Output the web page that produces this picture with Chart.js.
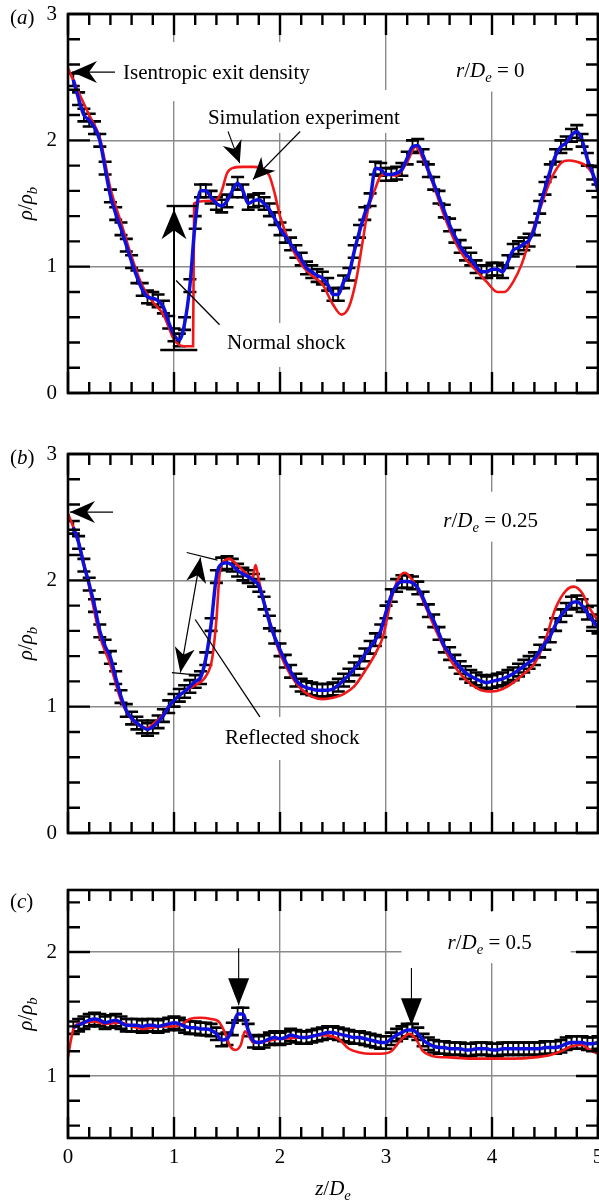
<!DOCTYPE html>
<html>
<head>
<meta charset="utf-8">
<script src="https://cdn.jsdelivr.net/npm/chart.js@4.4.1/dist/chart.umd.min.js"></script>
<style>
  body { margin: 0; background: #fff; }
  #wrap { position: relative; width: 599px; height: 1202px; overflow: hidden; }
  canvas { position: absolute; left: 0; }
</style>
</head>
<body>
<div id="wrap">
  <canvas id="pa" width="599" height="420" style="top:0"></canvas>
  <canvas id="pb" width="599" height="440" style="top:420px"></canvas>
  <canvas id="pc" width="599" height="342" style="top:860px"></canvas>
</div>
<script>
// axial positions z/De of the experimental samples (shared by the three panels)
const zExp = [0.05, 0.1, 0.15, 0.2, 0.25, 0.3, 0.35, 0.4, 0.45, 0.5,
  0.55, 0.6, 0.65, 0.7, 0.75, 0.8, 0.85, 0.9, 0.95, 1.0,
  1.05, 1.1, 1.15, 1.2, 1.25, 1.3, 1.35, 1.4, 1.45, 1.5,
  1.55, 1.6, 1.65, 1.7, 1.75, 1.8, 1.85, 1.9, 1.95, 2.0,
  2.05, 2.1, 2.15, 2.2, 2.25, 2.3, 2.35, 2.4, 2.45, 2.5,
  2.55, 2.6, 2.65, 2.7, 2.75, 2.8, 2.85, 2.9, 2.95, 3.0,
  3.05, 3.1, 3.15, 3.2, 3.25, 3.3, 3.35, 3.4, 3.45, 3.5,
  3.55, 3.6, 3.65, 3.7, 3.75, 3.8, 3.85, 3.9, 3.95, 4.0,
  4.05, 4.1, 4.15, 4.2, 4.25, 4.3, 4.35, 4.4, 4.45, 4.5,
  4.55, 4.6, 4.65, 4.7, 4.75, 4.8, 4.85, 4.9, 4.95, 5.0];

// experiment, rho/rho_b
const expA = [2.48, 2.33, 2.2, 2.16, 2.1, 2.0, 1.78, 1.56, 1.42, 1.3,
  1.17, 1.04, 0.92, 0.82, 0.76, 0.75, 0.73, 0.68, 0.56, 0.46,
  0.42, 0.55, 0.85, 1.35, 1.6, 1.6, 1.55, 1.5, 1.48, 1.52,
  1.6, 1.66, 1.6, 1.5, 1.52, 1.53, 1.5, 1.45, 1.38, 1.3,
  1.24, 1.18, 1.12, 1.06, 0.99, 0.96, 0.93, 0.91, 0.86, 0.78,
  0.78, 0.88, 0.94, 1.12, 1.28, 1.42, 1.53, 1.78, 1.77, 1.73,
  1.73, 1.74, 1.77, 1.86, 1.95, 1.96, 1.88, 1.76, 1.66, 1.55,
  1.44, 1.33, 1.24, 1.16, 1.1, 1.06, 1.0, 0.96, 0.96, 0.98,
  0.98, 0.96, 1.04, 1.13, 1.15, 1.18, 1.21, 1.3, 1.47, 1.62,
  1.76, 1.88, 1.95, 1.98, 2.04, 2.07, 2.0, 1.85, 1.74, 1.6];
const expB = [2.42, 2.3, 2.12, 1.97, 1.8, 1.6, 1.48, 1.39, 1.23, 1.08,
  0.97, 0.91, 0.87, 0.84, 0.82, 0.84, 0.88, 0.93, 1.0, 1.05,
  1.09, 1.12, 1.16, 1.2, 1.23, 1.38, 1.65, 2.03, 2.13, 2.14,
  2.12, 2.08, 2.05, 2.03, 2.0, 1.96, 1.82, 1.67, 1.55, 1.45,
  1.36, 1.28, 1.21, 1.17, 1.15, 1.14, 1.13, 1.13, 1.13, 1.14,
  1.17, 1.21, 1.25, 1.3, 1.35, 1.41, 1.47, 1.53, 1.6, 1.75,
  1.88, 1.96, 1.99, 1.99, 1.98, 1.94, 1.86, 1.76, 1.68, 1.58,
  1.48, 1.42, 1.36, 1.31, 1.27, 1.24, 1.22, 1.2, 1.19, 1.2,
  1.21, 1.22, 1.24, 1.26, 1.29, 1.32, 1.35, 1.38, 1.44, 1.5,
  1.56, 1.65, 1.72, 1.77, 1.82, 1.83, 1.8, 1.74, 1.68, 1.63];
const expC = [1.39, 1.41, 1.43, 1.45, 1.46, 1.45, 1.43, 1.44, 1.45, 1.43,
  1.41, 1.41, 1.41, 1.4, 1.41, 1.41, 1.4, 1.41, 1.42, 1.43,
  1.42, 1.4, 1.39, 1.39, 1.38, 1.38, 1.37, 1.34, 1.29, 1.3,
  1.38, 1.5, 1.5, 1.37, 1.28, 1.27, 1.28, 1.3, 1.31, 1.3,
  1.31, 1.33, 1.32, 1.31, 1.31, 1.32, 1.33, 1.34, 1.35, 1.35,
  1.34, 1.33, 1.32, 1.31, 1.31, 1.3, 1.29, 1.28, 1.27, 1.27,
  1.3, 1.33, 1.35, 1.37, 1.37, 1.34, 1.29, 1.26, 1.24, 1.23,
  1.23, 1.22, 1.22, 1.22, 1.21, 1.21, 1.22, 1.22, 1.22, 1.21,
  1.21, 1.22, 1.22, 1.22, 1.22, 1.22, 1.22, 1.22, 1.22, 1.23,
  1.23, 1.23, 1.24, 1.26, 1.27, 1.27, 1.27, 1.26, 1.26, 1.27];
const expErr = 0.05;

// simulation (red), own z positions
const simAZ = [0, 0.1, 0.2, 0.3, 0.4, 0.5, 0.6, 0.7, 0.8, 0.9, 0.95, 1.0, 1.05, 1.1, 1.18, 1.19, 1.3, 1.4, 1.45, 1.5,
  1.55, 1.65, 1.75, 1.85, 1.9, 1.95, 2.0, 2.1, 2.2, 2.3, 2.4, 2.5, 2.58, 2.65, 2.72, 2.78, 2.83, 2.9, 2.95, 3.0,
  3.1, 3.2, 3.28, 3.35, 3.45, 3.55, 3.65, 3.75, 3.85, 3.95, 4.05, 4.12, 4.2, 4.28, 4.35, 4.45, 4.55, 4.65, 4.72, 4.8,
  4.9, 5.0];
const simAR = [2.57, 2.38, 2.2, 2.02, 1.62, 1.35, 1.08, 0.85, 0.72, 0.62, 0.52, 0.42, 0.38, 0.37, 0.37, 1.5, 1.52, 1.53, 1.6, 1.74,
  1.78, 1.79, 1.79, 1.77, 1.72, 1.58, 1.4, 1.17, 1.02, 0.93, 0.86, 0.7, 0.62, 0.68, 0.9, 1.2, 1.45, 1.62, 1.72, 1.73,
  1.72, 1.83, 1.95, 1.85, 1.64, 1.4, 1.2, 1.06, 0.97, 0.88, 0.8, 0.8, 0.88, 1.02, 1.2, 1.45, 1.68, 1.82, 1.84, 1.83,
  1.79, 1.66];
const simBZ = [0, 0.1, 0.2, 0.3, 0.4, 0.5, 0.6, 0.7, 0.75, 0.8, 0.9, 1.0, 1.1, 1.2, 1.3, 1.36, 1.4, 1.43, 1.47, 1.52,
  1.6, 1.7, 1.74, 1.77, 1.8, 1.85, 1.9, 2.0, 2.1, 2.2, 2.3, 2.4, 2.5, 2.6, 2.7, 2.8, 2.9, 2.97, 3.05, 3.12,
  3.18, 3.25, 3.3, 3.4, 3.5, 3.6, 3.7, 3.8, 3.9, 4.0, 4.1, 4.2, 4.3, 4.4, 4.5, 4.6, 4.7, 4.77, 4.85, 4.92, 5.0];
const simBR = [2.53, 2.3, 1.95, 1.56, 1.33, 1.05, 0.9, 0.84, 0.83, 0.86, 0.94, 1.05, 1.12, 1.17, 1.24, 1.38, 1.69, 2.05, 2.15, 2.17,
  2.12, 2.04, 2.02, 2.12, 2.0, 1.83, 1.68, 1.42, 1.25, 1.14, 1.08, 1.06, 1.07, 1.1, 1.16, 1.28, 1.42, 1.55, 1.85, 2.02,
  2.06, 2.0, 1.93, 1.74, 1.55, 1.38, 1.26, 1.18, 1.13, 1.12, 1.14, 1.19, 1.26, 1.34, 1.52, 1.78, 1.92, 1.95, 1.9, 1.78, 1.68];
const simCZ = [0, 0.03, 0.06, 0.15, 0.25, 0.35, 0.5, 0.6, 0.7, 0.8, 0.9, 1.0, 1.08, 1.15, 1.25, 1.35, 1.42, 1.48, 1.53, 1.58,
  1.63, 1.67, 1.7, 1.75, 1.85, 2.0, 2.2, 2.4, 2.55, 2.65, 2.75, 2.85, 2.95, 3.05, 3.15, 3.22, 3.28, 3.35, 3.45, 3.6,
  3.8, 4.0, 4.2, 4.4, 4.55, 4.65, 4.75, 4.85, 4.92, 5.0];
const simCR = [1.15, 1.3, 1.4, 1.43, 1.44, 1.42, 1.43, 1.4, 1.38, 1.39, 1.4, 1.4, 1.42, 1.46, 1.47, 1.46, 1.44, 1.35, 1.24, 1.21,
  1.25, 1.36, 1.33, 1.27, 1.28, 1.3, 1.31, 1.33, 1.3, 1.22, 1.19, 1.18, 1.18, 1.2, 1.3, 1.34, 1.3, 1.2, 1.16, 1.15,
  1.14, 1.14, 1.14, 1.15, 1.17, 1.2, 1.24, 1.25, 1.21, 1.18];

// ticks
const xTicks = [0, 0.2, 0.4, 0.6, 0.8, 1, 1.2, 1.4, 1.6, 1.8, 2, 2.2, 2.4, 2.6, 2.8, 3, 3.2, 3.4, 3.6, 3.8, 4, 4.2, 4.4, 4.6, 4.8, 5];
const yTicksAB = [0, 0.2, 0.4, 0.6, 0.8, 1, 1.2, 1.4, 1.6, 1.8, 2, 2.2, 2.4, 2.6, 2.8, 3];
const yTicksC = [0.6, 0.8, 1, 1.2, 1.4, 1.6, 1.8, 2, 2.2, 2.4];

const FONT = '"Liberation Serif", "Times New Roman", serif';
const FS = 21;
const isMajor = v => Math.abs(v - Math.round(v)) < 1e-6;

// draws text made of pieces [text, italic, subscript]
function mathText(ctx, parts, x, y, align) {
  let w = 0;
  const items = parts.map(([t, it, sub]) => {
    const fs = sub ? FS * 0.7 : FS;
    const font = (it ? 'italic ' : '') + fs + 'px ' + FONT;
    ctx.font = font;
    const mw = ctx.measureText(t).width;
    w += mw;
    return { t, font, mw, sub };
  });
  let cx = align === 'center' ? x - w / 2 : x;
  ctx.textAlign = 'left';
  ctx.textBaseline = 'alphabetic';
  items.forEach(it => {
    ctx.font = it.font;
    ctx.fillText(it.t, cx, y + (it.sub ? FS * 0.25 : 0));
    cx += it.mw;
  });
  return w;
}

function textWidth(ctx, parts) {
  let w = 0;
  parts.forEach(([t, it, sub]) => {
    ctx.font = (it ? 'italic ' : '') + (sub ? FS * 0.7 : FS) + 'px ' + FONT;
    w += ctx.measureText(t).width;
  });
  return w;
}

function head(ctx, x1, y1, x2, y2, h) {
  const a = Math.atan2(y2 - y1, x2 - x1);
  ctx.save();
  ctx.translate(x2, y2);
  ctx.rotate(a);
  ctx.beginPath();
  ctx.moveTo(0, 0);
  ctx.lineTo(-h.len, -h.hw);
  ctx.lineTo(-h.len + h.notch, 0);
  ctx.lineTo(-h.len, h.hw);
  ctx.closePath();
  ctx.fill();
  ctx.restore();
}

const yTitle = [['\u03c1', 1], ['/'], ['\u03c1', 1], ['b', 1, 1]];

function panel(id, o) {
  const exp = zExp.map((z, i) => ({ x: z, y: o.exp[i] }));
  const sim = o.simZ.map((z, i) => ({ x: z, y: o.simR[i] }));

  const deco = {
    id: 'deco',
    beforeDatasetsDraw(chart) {
      const { ctx, chartArea: a } = chart;
      const xs = chart.scales.x, ys = chart.scales.y;
      ctx.save();
      // white boxes behind the notes
      ctx.fillStyle = '#fff';
      o.notes.forEach(n => {
        const px = xs.getPixelForValue(n.z), py = ys.getPixelForValue(n.r);
        const w = textWidth(ctx, n.parts);
        const p = n.pad;
        ctx.fillRect(px - p[0], py - 11 - p[1], w + p[0] + p[2], 22 + p[1] + p[3]);
      });
      // error bars of the experiment
      ctx.beginPath();
      ctx.rect(a.left, a.top, a.right - a.left, a.bottom - a.top);
      ctx.clip();
      ctx.strokeStyle = '#000';
      exp.forEach(p => {
        const px = xs.getPixelForValue(p.x);
        const t = ys.getPixelForValue(p.y + expErr), b = ys.getPixelForValue(p.y - expErr);
        ctx.lineWidth = 1.8;
        ctx.beginPath();
        ctx.moveTo(px, t); ctx.lineTo(px, b);
        ctx.stroke();
        ctx.lineWidth = 2.6;
        ctx.beginPath();
        ctx.moveTo(px - 6.5, t); ctx.lineTo(px + 6.5, t);
        ctx.moveTo(px - 6.5, b); ctx.lineTo(px + 6.5, b);
        ctx.stroke();
      });
      ctx.restore();
    },
    afterDatasetsDraw(chart) {
      const { ctx, chartArea: a } = chart;
      const xs = chart.scales.x, ys = chart.scales.y;
      const X = v => xs.getPixelForValue(v), Y = v => ys.getPixelForValue(v);
      ctx.save();
      ctx.strokeStyle = '#000';
      ctx.fillStyle = '#000';
      // inward ticks on four sides
      ctx.lineWidth = 2.4;
      ctx.beginPath();
      xs.ticks.forEach(t => {
        const p = X(t.value), L = isMajor(t.value) ? 21 : 11;
        ctx.moveTo(p, a.bottom); ctx.lineTo(p, a.bottom - L);
        ctx.moveTo(p, a.top); ctx.lineTo(p, a.top + L);
      });
      ys.ticks.forEach(t => {
        const p = Y(t.value), L = isMajor(t.value) ? 22 : 12;
        ctx.moveTo(a.left, p); ctx.lineTo(a.left + L, p);
        ctx.moveTo(a.right, p); ctx.lineTo(a.right - L, p);
      });
      ctx.stroke();
      ctx.lineWidth = 2.6;
      ctx.strokeRect(a.left, a.top, a.right - a.left, a.bottom - a.top);

      // plain segments
      o.lines.forEach(s => {
        ctx.lineWidth = s.w;
        ctx.beginPath();
        ctx.moveTo(X(s.from[0]), Y(s.from[1]));
        ctx.lineTo(X(s.to[0]), Y(s.to[1]));
        ctx.stroke();
      });
      // arrows
      o.arrows.forEach(s => {
        const x1 = X(s.from[0]), y1 = Y(s.from[1]), x2 = X(s.to[0]), y2 = Y(s.to[1]);
        ctx.lineWidth = s.w;
        ctx.beginPath();
        ctx.moveTo(x1, y1); ctx.lineTo(x2, y2);
        ctx.stroke();
        head(ctx, x1, y1, x2, y2, s.head);
        if (s.both) head(ctx, x2, y2, x1, y1, s.head);
      });
      // notes
      o.notes.forEach(n => mathText(ctx, n.parts, X(n.z), Y(n.r) + 7, 'left'));

      // panel letter and y title
      mathText(ctx, [['('], [o.letter, 1], [')']], 10, o.letterY + 7, 'left');
      ctx.save();
      ctx.translate(25, (a.top + a.bottom) / 2);
      ctx.rotate(-Math.PI / 2);
      mathText(ctx, yTitle, 0, 7, 'center');
      ctx.restore();
      if (o.xTitle) {
        mathText(ctx, [['z', 1], ['/'], ['D', 1], ['e', 1, 1]], (a.left + a.right) / 2, a.bottom + 57, 'center');
      }
      ctx.restore();
    }
  };

  const gridColor = c => (c.tick && isMajor(c.tick.value) ? '#8a8a8a' : 'rgba(0,0,0,0)');
  const tickFont = { family: FONT, size: FS };

  return new Chart(document.getElementById(id), {
    type: 'line',
    data: {
      datasets: [
        { label: 'Experiment', data: exp, borderColor: '#1010dc', borderWidth: 3.5, pointRadius: 0,
          cubicInterpolationMode: 'monotone', order: 0 },
        { label: 'Simulation', data: sim, borderColor: '#f01818', borderWidth: 2.6, pointRadius: 0,
          cubicInterpolationMode: 'monotone', order: 1 }
      ]
    },
    options: {
      responsive: false,
      animation: false,
      events: [],
      layout: { padding: { left: 0, right: 1, top: o.top, bottom: 0 } },
      plugins: { legend: { display: false }, tooltip: { enabled: false } },
      scales: {
        x: {
          type: 'linear', min: 0, max: 5,
          afterBuildTicks: s => { s.ticks = xTicks.map(v => ({ value: v })); },
          afterFit: s => { s.height = o.xHeight; s.paddingLeft = 0; s.paddingRight = 0; },
          grid: { color: gridColor, lineWidth: 1.4, drawTicks: false },
          border: { display: false },
          ticks: { display: !!o.xTitle, autoSkip: false, maxRotation: 0, padding: 7, color: '#000', font: tickFont,
            callback: v => (isMajor(v) ? String(Math.round(v)) : '') }
        },
        y: {
          min: o.yMin, max: o.yMax,
          afterBuildTicks: s => { s.ticks = o.yTicks.map(v => ({ value: v })); },
          afterFit: s => { s.width = 68; s.paddingTop = 0; s.paddingBottom = 0; },
          grid: { color: gridColor, lineWidth: 1.4, drawTicks: false },
          border: { display: false },
          ticks: { autoSkip: false, padding: 11, color: '#000', font: tickFont,
            callback: v => (isMajor(v) ? String(Math.round(v)) : '') }
        }
      }
    },
    plugins: [deco]
  });
}

const bigHead = { len: 25, hw: 11, notch: 8 };
const midHead = { len: 22, hw: 10, notch: 7 };

panel('pa', {
  exp: expA, simZ: simAZ, simR: simAR, yMin: 0, yMax: 3, yTicks: yTicksAB,
  top: 14, xHeight: 27, letter: 'a', letterY: 17,
  notes: [
    { parts: [['Isentropic exit density']], z: 0.52, r: 2.54, pad: [5, 19, 5, 18] },
    { parts: [['Simulation experiment']], z: 1.32, r: 2.185, pad: [3, 16, 3, 5] },
    { parts: [['r', 1], ['/'], ['D', 1], ['e', 1, 1], [' = 0']], z: 3.66, r: 2.56, pad: [6, 24, 8, 11] },
    { parts: [['Normal shock']], z: 1.5, r: 0.404, pad: [5, 8, 5, 14] }
  ],
  lines: [
    { from: [1.0, 0.34], to: [1.0, 1.48], w: 2 },
    { from: [0.87, 0.34], to: [1.22, 0.34], w: 2.4 },
    { from: [0.93, 1.48], to: [1.22, 1.48], w: 2.4 },
    { from: [1.02, 0.89], to: [1.43, 0.54], w: 1.3 }
  ],
  arrows: [
    { from: [0.443, 2.54], to: [0.038, 2.54], w: 1.3, head: bigHead },
    { from: [1.51, 2.07], to: [1.62, 1.82], w: 1.1, head: midHead },
    { from: [2.19, 2.07], to: [1.745, 1.69], w: 1.1, head: midHead },
    { from: [1.0, 0.8], to: [1.0, 1.455], w: 2, head: { len: 30, hw: 12.5, notch: 9 } }
  ]
});

panel('pb', {
  exp: expB, simZ: simBZ, simR: simBR, yMin: 0, yMax: 3, yTicks: yTicksAB,
  top: 34, xHeight: 27, letter: 'b', letterY: 37,
  notes: [
    { parts: [['r', 1], ['/'], ['D', 1], ['e', 1, 1], [' = 0.25']], z: 3.54, r: 2.48, pad: [6, 17, 8, 11] },
    { parts: [['Reflected shock']], z: 1.48, r: 0.76, pad: [5, 9, 5, 12] }
  ],
  lines: [
    { from: [1.12, 2.22], to: [1.41, 2.16], w: 1.2 },
    { from: [0.98, 1.27], to: [1.22, 1.25], w: 1.2 },
    { from: [1.2, 1.69], to: [1.81, 0.92], w: 1.3 }
  ],
  arrows: [
    { from: [0.425, 2.54], to: [0.019, 2.54], w: 1.3, head: bigHead },
    { from: [1.06, 1.27], to: [1.25, 2.18], w: 1.2, head: { len: 25, hw: 10, notch: 7 }, both: true }
  ]
});

panel('pc', {
  exp: expC, simZ: simCZ, simR: simCR, yMin: 0.5, yMax: 2.5, yTicks: yTicksC,
  top: 30, xHeight: 64, letter: 'c', letterY: 41, xTitle: true,
  notes: [
    { parts: [['r', 1], ['/'], ['D', 1], ['e', 1, 1], [' = 0.5']], z: 3.58, r: 2.08, pad: [46, 19, 39, 10] }
  ],
  lines: [],
  arrows: [
    { from: [1.61, 2.03], to: [1.61, 1.57], w: 1.1, head: { len: 27, hw: 10.5, notch: 0 } },
    { from: [3.24, 1.87], to: [3.24, 1.41], w: 1.1, head: { len: 27, hw: 10.5, notch: 0 } }
  ]
});
</script>
</body>
</html>
